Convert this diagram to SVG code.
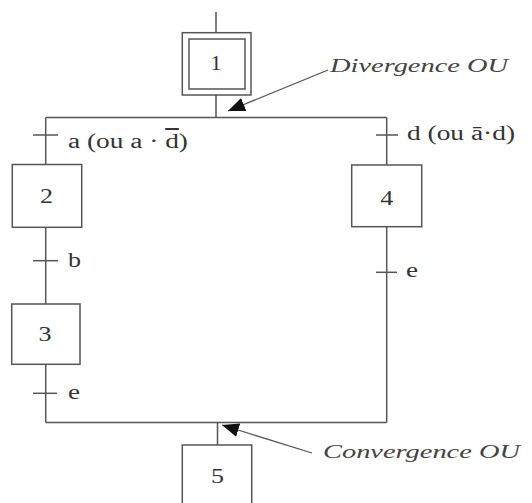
<svg xmlns="http://www.w3.org/2000/svg" width="532" height="503" viewBox="0 0 532 503">
<style>
.ln{stroke:#555;stroke-width:1.5;fill:none}
.bx{stroke:#555;stroke-width:1.5;fill:#fff}
.num{font-family:"Liberation Serif","Times New Roman",serif;font-size:21px;fill:#333;text-anchor:middle}
.lbl{font-family:"Liberation Serif","Times New Roman",serif;font-size:20px;fill:#333}
.it{font-family:"Liberation Serif","Times New Roman",serif;font-size:19px;font-style:italic;fill:#444}
.ar{stroke:#555;stroke-width:1.3;fill:none}
</style>
<defs>
<marker id="ah" viewBox="0 -7 17 14" refX="17" refY="0" markerWidth="17" markerHeight="14" markerUnits="userSpaceOnUse" orient="auto">
<path d="M0,-7 L17,0 L0,7 z" fill="#111"/>
</marker>
</defs>
<rect width="532" height="503" fill="#fff"/>
<g id="connectors">
<line class="ln" x1="216" y1="12" x2="216" y2="33"/>
<line class="ln" x1="216" y1="95" x2="216" y2="117.5"/>
<line class="ln" x1="45.7" y1="117.5" x2="386.7" y2="117.5"/>
<line class="ln" x1="45.7" y1="117.5" x2="45.7" y2="165"/>
<line class="ln" x1="45.7" y1="227" x2="45.7" y2="304"/>
<line class="ln" x1="45.7" y1="364" x2="45.7" y2="422.5"/>
<line class="ln" x1="386.7" y1="117.5" x2="386.7" y2="165"/>
<line class="ln" x1="386.7" y1="227" x2="386.7" y2="422.5"/>
<line class="ln" x1="45.7" y1="422.5" x2="386.7" y2="422.5"/>
<line class="ln" x1="217.5" y1="422.5" x2="217.5" y2="445"/>
</g>
<g id="transitions">
<line class="ln" x1="33" y1="135" x2="58" y2="135"/>
<text class="lbl" x="68" y="148" textLength="120" lengthAdjust="spacingAndGlyphs">a (ou a · <tspan text-decoration="overline">d</tspan>)</text>
<line class="ln" x1="33" y1="260.7" x2="58" y2="260.7"/>
<text class="lbl" x="68" y="267" textLength="13" lengthAdjust="spacingAndGlyphs">b</text>
<line class="ln" x1="33" y1="393.3" x2="57" y2="393.3"/>
<text class="lbl" x="68" y="399" textLength="12" lengthAdjust="spacingAndGlyphs">e</text>
<line class="ln" x1="376" y1="135" x2="398" y2="135"/>
<text class="lbl" x="407" y="140" textLength="108" lengthAdjust="spacingAndGlyphs">d (ou ā·d)</text>
<line class="ln" x1="376" y1="272.3" x2="397" y2="272.3"/>
<text class="lbl" x="406" y="277" textLength="12" lengthAdjust="spacingAndGlyphs">e</text>
</g>
<g id="step1">
<rect class="bx" x="182.3" y="32.7" width="68.7" height="62.3"/>
<rect class="bx" x="189" y="39" width="56" height="50"/>
<text class="num" x="216" y="70" textLength="11" lengthAdjust="spacingAndGlyphs">1</text>
</g>
<g id="step2">
<rect class="bx" x="12.3" y="164.5" width="69.4" height="62.8"/>
<text class="num" x="46.5" y="203" textLength="13" lengthAdjust="spacingAndGlyphs">2</text>
</g>
<g id="step3">
<rect class="bx" x="11.7" y="304" width="68.3" height="60.3"/>
<text class="num" x="45" y="341" textLength="13" lengthAdjust="spacingAndGlyphs">3</text>
</g>
<g id="step4">
<rect class="bx" x="351.7" y="165" width="70" height="61.7"/>
<text class="num" x="386.7" y="205" textLength="13" lengthAdjust="spacingAndGlyphs">4</text>
</g>
<g id="step5">
<rect class="bx" x="182.3" y="445" width="69.4" height="70"/>
<text class="num" x="217.5" y="483" textLength="13" lengthAdjust="spacingAndGlyphs">5</text>
</g>
<g id="annotations">
<line class="ar" x1="328" y1="70" x2="228" y2="111" marker-end="url(#ah)"/>
<text class="it" x="330" y="72" textLength="178" lengthAdjust="spacingAndGlyphs">Divergence OU</text>
<line class="ar" x1="312" y1="453" x2="222" y2="425" marker-end="url(#ah)"/>
<text class="it" x="323" y="458" textLength="197" lengthAdjust="spacingAndGlyphs">Convergence OU</text>
</g>
</svg>
